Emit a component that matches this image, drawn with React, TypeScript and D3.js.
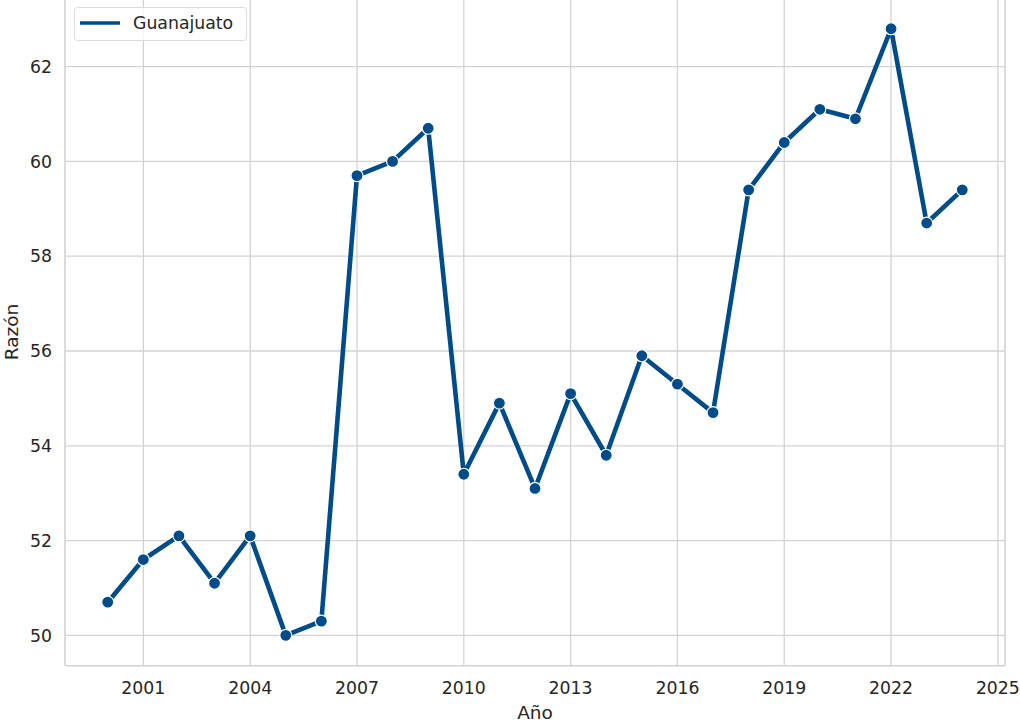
import React from "react";
import * as d3 from "d3";

const years = [2000,2001,2002,2003,2004,2005,2006,2007,2008,2009,2010,2011,2012,2013,2014,2015,2016,2017,2018,2019,2020,2021,2022,2023,2024];
const values = [50.7,51.6,52.1,51.1,52.1,50.0,50.3,59.7,60.0,60.7,53.4,54.9,53.1,55.1,53.8,55.9,55.3,54.7,59.4,60.4,61.1,60.9,62.8,58.7,59.4];
const xTicks = [2001,2004,2007,2010,2013,2016,2019,2022,2025];
const yTicks = [50,52,54,56,58,60,62];
const seriesName = "Guanajuato";

export default function App() {
  const W = 1020, H = 723;
  const left = 65, right = 1005, top = -1.6, bottom = 665.7;
  const color = "#004c8a";
  const font = "DejaVu Sans, sans-serif";
  const txt = "#262626";
  const grid = "#d3d3d3";
  const xPad = (2024 - 2000) * 0.05;
  const yMin = d3.min(values)!, yMax = d3.max(values)!;
  const yPad = (yMax - yMin) * 0.05;
  const x = d3.scaleLinear().domain([2000 - xPad, 2024 + xPad]).range([left, right]);
  const y = d3.scaleLinear().domain([yMin - yPad, yMax + yPad]).range([bottom, top]);
  const pts = years.map((yr, i) => [yr, values[i]] as [number, number]);
  const line = d3.line<[number, number]>().x(d => x(d[0])).y(d => y(d[1]));
  return (
    <svg width={W} height={H} style={{ position: "absolute", left: 0, top: 0 }} fontFamily={font}>
      <rect x={0} y={0} width={W} height={H} fill="#fff" />
      <clipPath id="c"><rect x={left} y={0} width={right - left} height={bottom} /></clipPath>
      {xTicks.map(t => (
        <line key={"gx" + t} x1={x(t)} x2={x(t)} y1={Math.max(top, 0)} y2={bottom} stroke={grid} strokeWidth={1.3} />
      ))}
      {yTicks.map(t => (
        <line key={"gy" + t} x1={left} x2={right} y1={y(t)} y2={y(t)} stroke={grid} strokeWidth={1.3} />
      ))}
      <line x1={left} x2={left} y1={0} y2={bottom} stroke={grid} strokeWidth={1.6} />
      <line x1={right} x2={right} y1={0} y2={bottom} stroke={grid} strokeWidth={1.6} />
      <line x1={left} x2={right} y1={bottom} y2={bottom} stroke={grid} strokeWidth={1.6} />
      {xTicks.map(t => (
        <text key={"tx" + t} x={x(t)} y={bottom + 28.5} textAnchor="middle" fontSize={17.3} fill={txt}>{t}</text>
      ))}
      {yTicks.map(t => (
        <text key={"ty" + t} x={left - 13} y={y(t)} dy="0.36em" textAnchor="end" fontSize={17.3} fill={txt}>{t}</text>
      ))}
      <text x={(left + right) / 2} y={719} textAnchor="middle" fontSize={18.5} fill={txt}>Año</text>
      <text transform={`translate(18,${(top + bottom) / 2}) rotate(-90)`} textAnchor="middle" fontSize={18.5} fill={txt}>Razón</text>
      <g clipPath="url(#c)">
        <path d={line(pts)!} fill="none" stroke={color} strokeWidth={4.6} strokeLinejoin="round" />
        {pts.map((p, i) => (
          <circle key={i} cx={x(p[0])} cy={y(p[1])} r={6} fill={color} stroke="#fff" strokeWidth={1.2} />
        ))}
      </g>
      <g>
        <rect x={74.5} y={7.5} width={172} height={33} rx={3} fill="#fff" fillOpacity={0.8} stroke="#dcdcdc" strokeWidth={1} />
        <line x1={80} x2={120} y1={23} y2={23} stroke={color} strokeWidth={3.5} />
        <text x={133} y={23} dy="0.36em" fontSize={17.3} fill={txt}>{seriesName}</text>
      </g>
    </svg>
  );
}
